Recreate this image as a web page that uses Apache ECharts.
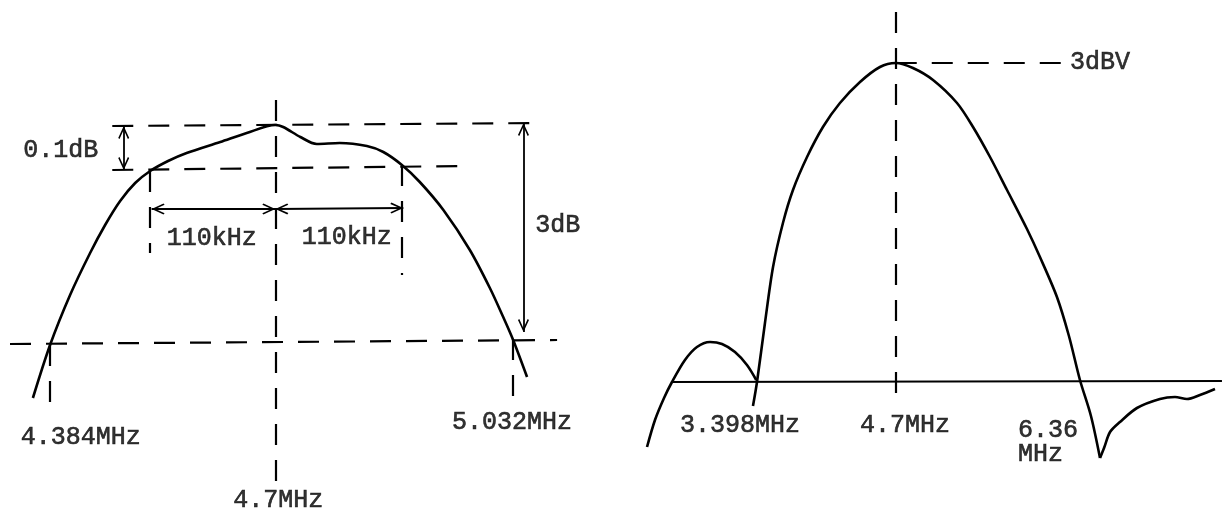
<!DOCTYPE html>
<html>
<head>
<meta charset="utf-8">
<script src="https://cdn.jsdelivr.net/npm/echarts@6/dist/echarts.min.js"></script>
<style>
  html, body { margin: 0; padding: 0; background: #fff; }
  #chart { width: 1226px; height: 516px; }
</style>
</head>
<body>
<div id="chart"></div>
<script>
// 左图：通带响应 (频率 MHz, 电平为图中相对高度)
const leftFreq  = [4.361, 4.385, 4.413, 4.441, 4.462, 4.483, 4.504, 4.525, 4.550, 4.576, 4.623, 4.660, 4.700, 4.711, 4.735, 4.758, 4.790, 4.828, 4.851, 4.877, 4.902, 4.935, 4.972, 5.000, 5.018, 5.032, 5.052];
const leftLevel = [118, 171, 221, 263, 291, 315, 333, 345, 355, 363, 374, 383, 391, 389, 379, 372, 373, 370, 364, 351, 334, 306, 266, 228, 200, 177, 139];

// 右图：整体响应
const humpFreq  = [2.418, 2.491, 2.574, 2.647, 2.766, 2.876, 2.996, 3.106, 3.225, 3.335, 3.420];
const humpLevel = [69, 96, 118, 134, 156, 169, 174, 172, 164, 151, 136];
const mainFreq  = [3.390, 3.427, 3.500, 3.574, 3.665, 3.757, 3.886, 4.032, 4.188, 4.372, 4.555, 4.700, 4.858, 5.042, 5.262, 5.409, 5.565, 5.721, 5.904, 6.023, 6.179, 6.289, 6.390, 6.491, 6.574];
const mainLevel = [110, 134, 193, 249, 293, 326, 359, 389, 413, 434, 449, 453, 448, 436, 413, 389, 359, 326, 287, 259, 219, 180, 136, 100, 58];
const tailFreq  = [6.574, 6.611, 6.666, 6.757, 6.913, 7.124, 7.262, 7.372, 7.491, 7.629];
const tailLevel = [58, 68, 84, 94, 108, 117, 119, 117, 121, 127];

// 虚线 [f1, level1, f2, level2]
const leftDashed = [
    [4.472, 390, 5.073, 393],
    [4.472, 346, 4.965, 350],
    [4.329, 172, 5.094, 176],
    [4.700, 416, 4.700, 29],
    [4.525, 345, 4.525, 263],
    [4.877, 351, 4.877, 241],
    [4.385, 171, 4.385, 101],
    [5.032, 177, 5.032, 119]
];
const rightDashed = [
    [4.700, 504, 4.700, 114],
    [4.700, 453, 6.225, 453]
];
// 实线基线
const rightBase = [[2.647, 134, 7.693, 135]];
// 双向箭头
const leftArrows = [
    [4.488, 390, 4.488, 346],
    [4.527, 307, 4.700, 307],
    [4.700, 307, 4.879, 308],
    [5.047, 393, 5.047, 184]
];

// 文字标注 [文字, f, level, 对齐]
const leftLabels = [
    ['0.1dB', 4.400, 366, 'center'],
    ['110kHz', 4.611, 278, 'center'],
    ['110kHz', 4.800, 279, 'center'],
    ['3dB', 5.095, 291, 'center'],
    ['4.384MHz', 4.428, 79, 'center'],
    ['5.032MHz', 5.031, 94, 'center'],
    ['4.7MHz', 4.704, 16, 'center']
];
const rightLabels = [
    ['3.398MHz', 3.271, 91, 'center'],
    ['4.7MHz', 4.785, 91, 'center'],
    ['6.36', 5.821, 86, 'left'],
    ['MHz', 5.821, 62, 'left'],
    ['3dBV', 6.298, 454, 'left']
];

const FONT = '"Liberation Mono", "DejaVu Sans Mono", monospace';
const ARROW = 'path://M5,-12 M5,0 L10,11 L8.8,12 L5,3.5 L1.2,12 L0,11 Z';

const chart = echarts.init(document.getElementById('chart'));

function toPairs(xs, ys) {
    return xs.map((x, i) => [x, ys[i]]);
}

function segs(list) {
    return list.map(s => [{ coord: [s[0], s[1]] }, { coord: [s[2], s[3]] }]);
}

function curve(xs, ys, idx) {
    return {
        type: 'line',
        xAxisIndex: idx,
        yAxisIndex: idx,
        data: toPairs(xs, ys),
        smooth: 0.3,
        symbol: 'none',
        silent: true,
        lineStyle: { color: '#000', width: 2.6 }
    };
}

function guides(idx, dashed, solid, arrows) {
    const data = [];
    segs(dashed).forEach(d => data.push(d.map(p => Object.assign({}, p, {
        lineStyle: { type: [21, 15], width: 2.2 }, symbol: 'none'
    }))));
    segs(solid).forEach(d => data.push(d.map(p => Object.assign({}, p, {
        lineStyle: { type: 'solid', width: 2 }, symbol: 'none'
    }))));
    segs(arrows).forEach(d => data.push(d.map(p => Object.assign({}, p, {
        lineStyle: { type: 'solid', width: 1.8 }
    }))));
    return {
        type: 'line',
        xAxisIndex: idx,
        yAxisIndex: idx,
        data: [],
        silent: true,
        markLine: {
            silent: true,
            animation: false,
            symbol: [ARROW, ARROW],
            symbolSize: [11, 26],
            label: { show: false },
            lineStyle: { color: '#000', width: 2 },
            emphasis: { disabled: true },
            data: data
        }
    };
}

function labels(idx, list) {
    return {
        type: 'scatter',
        xAxisIndex: idx,
        yAxisIndex: idx,
        symbolSize: 0,
        silent: true,
        data: list.map(l => ({
            value: [l[1], l[2]],
            name: l[0],
            label: { align: l[3] }
        })),
        label: {
            show: true,
            position: 'inside',
            formatter: p => p.name,
            color: '#000',
            textBorderColor: '#000',
            textBorderWidth: 0.6,
            fontFamily: FONT,
            fontSize: 25,
            verticalAlign: 'middle'
        }
    };
}

const option = {
    backgroundColor: '#fff',
    animation: false,
    grid: [
        { left: 0, top: 0, width: 600, height: 516 },
        { left: 620, top: 0, width: 606, height: 516 }
    ],
    xAxis: [
        { type: 'value', gridIndex: 0, min: 4.315, max: 5.154, show: false },
        { type: 'value', gridIndex: 1, min: 2.17, max: 7.73, show: false }
    ],
    yAxis: [
        { type: 'value', gridIndex: 0, min: 0, max: 516, show: false },
        { type: 'value', gridIndex: 1, min: 0, max: 516, show: false }
    ],
    series: [
        curve(leftFreq, leftLevel, 0),
        curve(humpFreq, humpLevel, 1),
        curve(mainFreq, mainLevel, 1),
        curve(tailFreq, tailLevel, 1),
        guides(0, leftDashed, [], leftArrows),
        guides(1, rightDashed, rightBase, []),
        labels(0, leftLabels),
        labels(1, rightLabels)
    ]
};

chart.setOption(option);
</script>
</body>
</html>
